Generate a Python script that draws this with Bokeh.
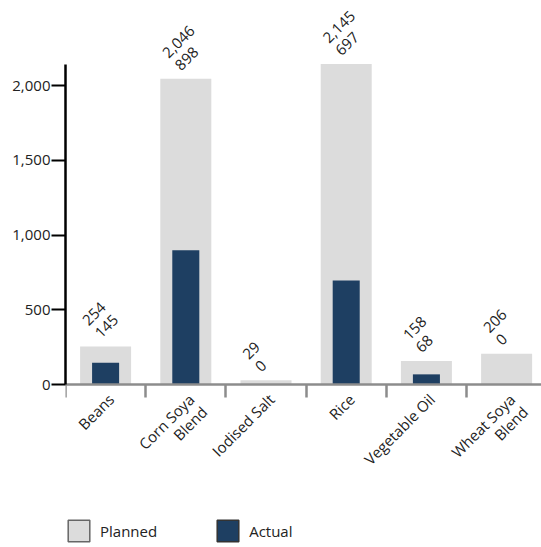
import math
from bokeh.plotting import figure
from bokeh.models import (ColumnDataSource, Range1d, FixedTicker, NumeralTickFormatter,
                          Legend, LegendItem, LinearAxis)
from bokeh.core.properties import value
from bokeh.embed import file_html
from bokeh.resources import INLINE

categories = ["Beans", "Corn Soya Blend", "Iodised Salt", "Rice", "Vegetable Oil", "Wheat Soya Blend"]
category_labels = ["Beans", "Corn Soya\nBlend", "Iodised Salt", "Rice", "Vegetable Oil", "Wheat Soya\nBlend"]
planned = [254, 2046, 29, 2145, 158, 206]
actual = [145, 898, 0, 697, 68, 0]
y_ticks = [0, 500, 1000, 1500, 2000]

FONT = "Open Sans"
FS = "15px"
TXT = "#222222"
GRAY = "#dcdcdc"
NAVY = "#1e3f62"
AXIS_GRAY = "#8c8c8c"

n = len(categories)
xs = [i + 0.5 for i in range(n)]
line1 = [lab.split("\n")[0] for lab in category_labels]

src = ColumnDataSource(dict(
    x=xs, zero=[0] * n, planned=planned, actual=actual,
    planned_txt=["{:,}".format(v) for v in planned],
    actual_txt=["{:,}".format(v) for v in actual],
    line1=line1,
))
two_line = [i for i, lab in enumerate(category_labels) if "\n" in lab]
src2 = ColumnDataSource(dict(
    x=[xs[i] for i in two_line], zero=[0] * len(two_line),
    line2=[category_labels[i].split("\n")[1] for i in two_line],
))

p = figure(width=541, height=547, output_backend="svg", toolbar_location=None,
           x_range=Range1d(0, 5.935), y_range=Range1d(-1091, 2517),
           x_axis_location=None,
           min_border_left=65, min_border_right=0, min_border_top=8, min_border_bottom=0)
p.outline_line_color = None
p.grid.visible = False

r_planned = p.vbar(x="x", top="planned", width=0.636, source=src, fill_color=GRAY, line_color=None)
r_actual = p.vbar(x="x", top="actual", width=0.337, source=src, fill_color=NAVY, line_color=None)

# value labels above bars
p.text(x="x", y="planned", text="actual_txt", source=src, angle=math.pi / 4,
       text_align="left", text_baseline="middle", x_offset=-8, y_offset=-11,
       text_font=value(FONT), text_font_size=FS, text_color=TXT)
p.text(x="x", y="planned", text="planned_txt", source=src, angle=math.pi / 4,
       text_align="left", text_baseline="middle", x_offset=-20.5, y_offset=-23.5,
       text_font=value(FONT), text_font_size=FS, text_color=TXT)

# category labels under the axis
p.text(x="x", y="zero", text="line1", source=src, angle=math.pi / 4,
       text_align="right", text_baseline="middle", x_offset=5.5, y_offset=12,
       text_font=value(FONT), text_font_size=FS, text_color=TXT)
p.text(x="x", y="zero", text="line2", source=src2, angle=math.pi / 4,
       text_align="right", text_baseline="middle", x_offset=18.5, y_offset=24.5,
       text_font=value(FONT), text_font_size=FS, text_color=TXT)

# y axis
ya = p.yaxis[0]
ya.bounds = (0, max(planned))
ya.ticker = FixedTicker(ticks=y_ticks)
ya.formatter = NumeralTickFormatter(format="0,0")
ya.axis_line_color = "black"
ya.axis_line_width = 2.5
ya.major_tick_line_color = "black"
ya.major_tick_line_width = 2
ya.major_tick_out = 14
ya.major_tick_in = 0
ya.minor_tick_line_color = None
ya.major_label_standoff = 1
ya.major_label_text_font = FONT
ya.major_label_text_font_size = FS
ya.major_label_text_color = TXT

# x axis: baseline at zero with category boundary ticks (no tick labels)
xa = LinearAxis(fixed_location=0,
                ticker=FixedTicker(ticks=[], minor_ticks=list(range(n + 1))),
                axis_line_color=AXIS_GRAY, axis_line_width=2.5,
                major_tick_line_color=None,
                minor_tick_line_color=AXIS_GRAY, minor_tick_line_width=2.5,
                minor_tick_in=13, minor_tick_out=0,
                major_label_standoff=0)
p.add_layout(xa, "above")

# legend (hidden proxy renderers give the bordered squares)
r_p = p.rect(x="x", y="zero", width=0.1, height=1, source=src, fill_color=GRAY,
             line_color="#666666", line_width=1.5, visible=False)
r_a = p.rect(x="x", y="zero", width=0.1, height=1, source=src, fill_color=NAVY,
             line_color="#333333", line_width=1.5, visible=False)
legend = Legend(items=[LegendItem(label="Planned", renderers=[r_p]),
                       LegendItem(label="Actual", renderers=[r_a])],
                location=(0, 3), orientation="horizontal", click_policy="none",
                glyph_width=27, glyph_height=27, label_standoff=8, spacing=57,
                padding=0, margin=0, border_line_color=None, background_fill_alpha=0,
                inactive_fill_alpha=0,
                label_text_font=FONT, label_text_font_size=FS, label_text_color=TXT)
p.add_layout(legend, "center")

open("out.html", "w").write(file_html(p, INLINE))
